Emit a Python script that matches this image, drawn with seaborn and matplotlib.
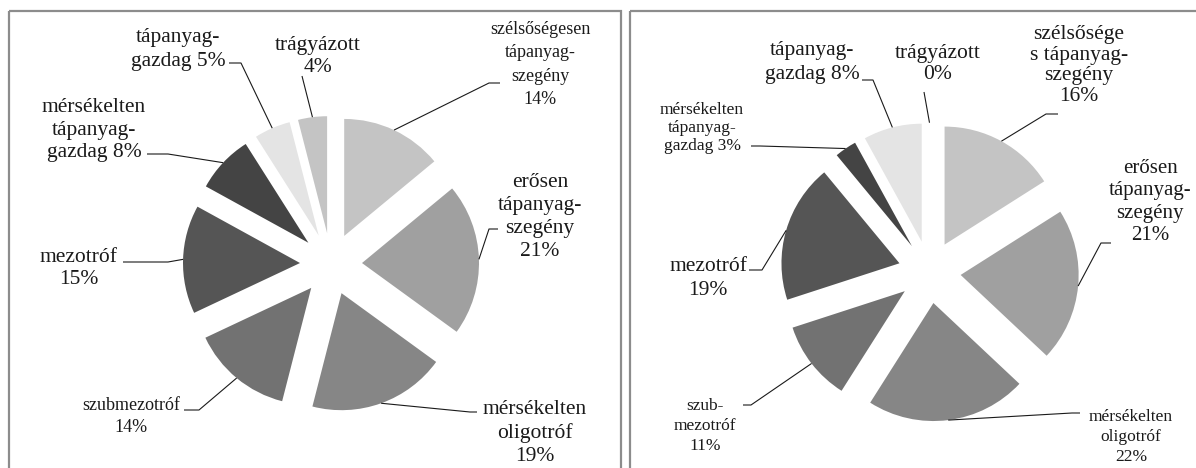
import numpy as np
import matplotlib
matplotlib.use("Agg")
import matplotlib.pyplot as plt
import seaborn as sns
from matplotlib.patches import Rectangle

sns.set_theme(style="white")
plt.rcParams["font.family"] = ["Liberation Serif", "DejaVu Serif"]

# Trophic categories, clockwise from 12 o'clock
categories = [
    "szélsőségesen tápanyag-szegény",
    "erősen tápanyag-szegény",
    "mérsékelten oligotróf",
    "szubmezotróf",
    "mezotróf",
    "mérsékelten tápanyag-gazdag",
    "tápanyag-gazdag",
    "trágyázott",
]
share_left = [14, 21, 19, 14, 15, 8, 5, 4]
share_right = [16, 21, 22, 11, 19, 3, 8, 0]

# Wrapped label texts and the separator placed before the percentage
labels_left = ["szélsőségesen\ntápanyag-\nszegény", "erősen\ntápanyag-\nszegény",
               "mérsékelten\noligotróf", "szubmezotróf", "mezotróf",
               "mérsékelten\ntápanyag-\ngazdag", "tápanyag-\ngazdag", "trágyázott"]
labels_right = ["szélsősége\ns tápanyag-\nszegény", "erősen\ntápanyag-\nszegény",
                "mérsékelten\noligotróf", "szub-\nmezotróf", "mezotróf",
                "mérsékelten\ntápanyag-\ngazdag", "tápanyag-\ngazdag", "trágyázott"]
sep_left = ["\n", "\n", "\n", "\n", "\n", " ", " ", "\n"]
sep_right = ["\n", "\n", "\n", "\n", "\n", " ", " ", "\n"]

palette = sns.color_palette(["#c4c4c4", "#a0a0a0", "#868686", "#727272",
                             "#555555", "#444444", "#e4e4e4", "#c4c4c4"])

W, H = 1196, 468
fig = plt.figure(figsize=(W / 100, H / 100), dpi=100)
fig.patch.set_facecolor("white")

overlay = fig.add_axes([0, 0, 1, 1], zorder=3)
overlay.set_xlim(0, W)
overlay.set_ylim(H, 0)
overlay.axis("off")
overlay.patch.set_alpha(0)

MAIN = 15.5
TEXT_COLOR = "#1a1a1a"

# label layout: (x, y, size, linespacing, leader bend points)
layout_left = [
    (540, 64.5, 13, 1.5, [(489, 83), (500, 83)]),
    (540, 217, MAIN, 1.28, [(489, 229), (498, 229)]),
    (535, 433, MAIN, 1.26, [(470, 412), (477, 412)]),
    (131, 416.5, 13, 1.44, [(199, 410), (184, 410)]),
    (79, 268.5, MAIN, 1.2, [(168, 262), (123, 262)]),
    (94, 130, MAIN, 1.22, [(168, 154), (147, 154)]),
    (178, 49.5, MAIN, 1.3, [(241, 63), (229, 63)]),
    (318, 56.5, MAIN, 1.2, [(302, 76)]),
]
layout_right = [
    (1079, 65.5, MAIN, 1.14, [(1046, 114), (1058, 114)]),
    (1150, 202, 15, 1.25, [(1101, 243), (1111, 243)]),
    (1131, 437, 12.5, 1.33, [(1072, 413), (1080, 413)]),
    (705, 426, 12.5, 1.36, [(751, 405), (743, 405)]),
    (708, 278.5, MAIN, 1.4, [(762, 270), (749, 270)]),
    (702, 128, 12.5, 1.2, [(760, 146), (751, 146)]),
    (812, 62.5, MAIN, 1.3, [(873, 80), (862, 80)]),
    (938, 64, MAIN, 1.15, [(924, 92)]),
]

# chart frames (the right one runs past the image edge)
for x0, w in [(9, 612), (630, 640)]:
    overlay.add_patch(Rectangle((x0, 11), w, 600, fill=False,
                                edgecolor="#8c8c8c", linewidth=1.6))


def draw_pie(values, texts, seps, layout, cx, cy, r, explode=0.265):
    span = 1.5
    pax = fig.add_axes([(cx - span * r) / W, (H - cy - span * r) / H,
                        2 * span * r / W, 2 * span * r / H], zorder=1)
    wedges, _ = pax.pie(values, colors=palette, startangle=90, counterclock=False,
                        explode=[explode] * len(values), radius=1,
                        wedgeprops=dict(linewidth=0))
    pax.set_xlim(-span, span)
    pax.set_ylim(-span, span)
    pax.set_aspect("auto")
    pax.axis("off")
    to_overlay = overlay.transData.inverted()
    for w, txt, sep, val, (tx, ty, fs, ls, bends) in zip(wedges, texts, seps, values, layout):
        t = np.deg2rad(0.5 * (w.theta1 + w.theta2))
        mid = np.array(w.center) + w.r * np.array([np.cos(t), np.sin(t)])
        ax0, ay0 = to_overlay.transform(pax.transData.transform(mid))
        xs = [ax0] + [p[0] for p in bends]
        ys = [ay0] + [p[1] for p in bends]
        overlay.plot(xs, ys, color="#1a1a1a", linewidth=0.8, solid_capstyle="butt")
        overlay.text(tx, ty, f"{txt}{sep}{val}%", ha="center", va="center",
                     multialignment="center", fontsize=fs, linespacing=ls,
                     color=TEXT_COLOR)


draw_pie(share_left, labels_left, sep_left, layout_left, 331, 264, 117)
draw_pie(share_right, labels_right, sep_right, layout_right, 929.5, 272, 118)

fig.savefig("out.png", dpi=100, facecolor="white")
